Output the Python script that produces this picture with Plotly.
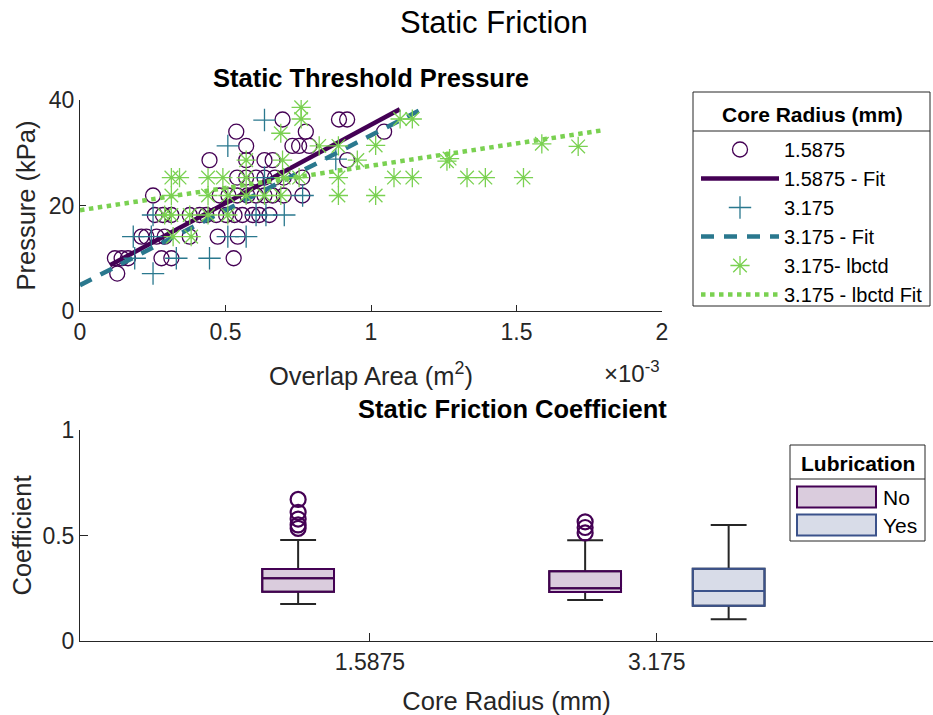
import plotly.graph_objects as go

# ---------------- data ----------------
# Overlap area in units of 1e-3 m^2, static threshold pressure in kPa
r15875_area = [0.128,
               0.120, 0.143, 0.165, 0.280, 0.314, 0.528,
               0.211, 0.228, 0.263, 0.291, 0.377, 0.473, 0.542,
               0.257, 0.285, 0.314, 0.377, 0.411, 0.434, 0.468, 0.502, 0.531, 0.558, 0.593, 0.616, 0.651,
               0.251, 0.480, 0.510, 0.540, 0.575, 0.605, 0.634, 0.662, 0.700, 0.764,
               0.540, 0.571, 0.605, 0.634, 0.670, 0.700, 0.764,
               0.445, 0.571, 0.634, 0.662, 0.918,
               0.571, 0.730, 0.753, 0.788,
               0.537, 0.776, 1.045,
               0.696, 0.890, 0.918]
r15875_press = [7.1,
                10.0, 10.0, 10.0, 10.0, 10.0, 10.0,
                14.1, 14.1, 14.1, 14.1, 14.1, 14.1, 14.1,
                18.2, 18.2, 18.2, 18.2, 18.2, 18.2, 18.2, 18.2, 18.2, 18.2, 18.2, 18.2, 18.2,
                21.9, 21.9, 21.9, 21.9, 21.9, 21.9, 21.9, 21.9, 21.9, 21.9,
                25.3, 25.3, 25.3, 25.3, 25.3, 25.3, 25.3,
                28.6, 28.6, 28.6, 28.6, 28.6,
                31.3, 31.3, 31.3, 31.3,
                34.0, 34.0, 34.0,
                36.3, 36.3, 36.3]

r3175_area = [0.251,
              0.188, 0.331, 0.445,
              0.183, 0.245, 0.508, 0.571,
              0.251, 0.605, 0.639, 0.702,
              0.765, 0.634, 0.879, 0.508, 0.634]
r3175_press = [7.1,
               10.0, 10.0, 10.0,
               14.1, 14.1, 14.1, 14.1,
               18.2, 18.2, 18.2, 18.2,
               21.9, 25.3, 28.8, 31.3, 36.2]

lbctd_area = [0.320, 0.382,
              0.291, 0.314, 0.377, 0.440, 0.508,
              0.314, 0.440, 0.508, 0.571, 0.634, 0.690, 0.888, 1.016,
              0.314, 0.342, 0.440, 0.491, 0.571, 0.700, 0.753, 0.888, 1.079, 1.142, 1.330, 1.393, 1.524,
              0.571, 0.696, 0.953, 1.261, 1.270,
              0.822, 0.888, 1.016, 1.587, 1.712,
              0.690, 0.760, 1.100, 1.142, 0.760]
lbctd_press = [14.1, 14.1,
               18.2, 18.2, 18.2, 18.2, 18.2,
               21.9, 21.9, 21.9, 21.9, 21.9, 21.9, 21.9, 21.9,
               25.3, 25.3, 25.3, 25.3, 25.3, 25.3, 25.3, 25.3, 25.3, 25.3, 25.3, 25.3, 25.3,
               28.6, 28.6, 28.6, 28.4, 28.9,
               31.3, 31.3, 31.4, 31.7, 31.2,
               33.7, 36.4, 36.4, 36.4, 38.6]

# linear fits: pressure = slope * area + intercept, drawn over [x_start, x_end]
fit_15875 = dict(slope=29.7, intercept=5.6, x_start=0.103, x_end=1.099)
fit_3175 = dict(slope=28.4, intercept=4.9, x_start=0.0, x_end=1.185)
fit_lbctd = dict(slope=8.44, intercept=19.1, x_start=0.0, x_end=1.80)

# static friction coefficient box statistics
radius_categories = ["1.5875", "3.175"]
lubrication_groups = ["No", "Yes"]
box_category = ["1.5875", "3.175", "3.175"]
box_group = ["No", "No", "Yes"]
box_lowerfence = [0.175, 0.194, 0.103]
box_q1 = [0.234, 0.232, 0.167]
box_median = [0.297, 0.250, 0.237]
box_q3 = [0.341, 0.330, 0.343]
box_upperfence = [0.479, 0.477, 0.550]
box_outliers = [[0.671, 0.610, 0.578, 0.550, 0.534],
                [0.565, 0.538, 0.512],
                []]

# ---------------- styling ----------------
W, H = 933, 715
PURPLE = "#440154"
TEAL = "#2a788e"
GREEN = "#7ad151"
BLUE = "#3b528b"
AX = "#262626"
FONT = "Liberation Sans, Arial, Helvetica, sans-serif"
TICK_SIZE = 23
LABEL_SIZE = 25.5
TITLE_SIZE = 25.5
LEGEND_SIZE = 20

group_color = {"No": PURPLE, "Yes": BLUE}
group_fill = {"No": "rgba(68,1,84,0.2)", "Yes": "rgba(59,82,139,0.2)"}
group_offset = {"No": -0.25, "Yes": 0.25}


def fx(px):
    return px / W


def fy(py):
    return 1 - py / H


def text(s, x, y, size, xanchor="center", color="black"):
    fig.add_annotation(text=s, x=fx(x), y=fy(y), xref="paper", yref="paper",
                       xanchor=xanchor, yanchor="middle", showarrow=False,
                       font=dict(family=FONT, size=size, color=color))


fig = go.Figure()

# ---------------- top: scatter + fits ----------------
def fit_line(f):
    xs = [f["x_start"], f["x_end"]]
    return xs, [f["slope"] * x + f["intercept"] for x in xs]


fig.add_trace(go.Scatter(
    x=r15875_area, y=r15875_press, mode="markers", name="1.5875",
    marker=dict(symbol="circle-open", size=15, color=PURPLE, line=dict(width=1.3, color=PURPLE)),
    xaxis="x", yaxis="y"))
xs, ys = fit_line(fit_15875)
fig.add_trace(go.Scatter(x=xs, y=ys, mode="lines", name="1.5875 - Fit",
                         line=dict(color=PURPLE, width=4.5), xaxis="x", yaxis="y"))
fig.add_trace(go.Scatter(
    x=r3175_area, y=r3175_press, mode="markers", name="3.175",
    marker=dict(symbol="cross-thin-open", size=16, color=TEAL, line=dict(width=1.3, color=TEAL)),
    xaxis="x", yaxis="y"))
xs, ys = fit_line(fit_3175)
fig.add_trace(go.Scatter(x=xs, y=ys, mode="lines", name="3.175 - Fit",
                         line=dict(color=TEAL, width=4.5, dash="13px,10px"), xaxis="x", yaxis="y"))
fig.add_trace(go.Scatter(
    x=lbctd_area, y=lbctd_press, mode="markers", name="3.175- lbctd",
    marker=dict(symbol="asterisk-open", size=16, color=GREEN, line=dict(width=1.3, color=GREEN)),
    xaxis="x", yaxis="y"))
xs, ys = fit_line(fit_lbctd)
fig.add_trace(go.Scatter(x=xs, y=ys, mode="lines", name="3.175 - lbctd Fit",
                         line=dict(color=GREEN, width=4.5, dash="dot"), xaxis="x", yaxis="y"))

# ---------------- bottom: box chart ----------------
for i in range(len(box_q1)):
    pos = radius_categories.index(box_category[i]) + 1 + group_offset[box_group[i]]
    g = box_group[i]
    # whiskers and caps in dark grey
    fig.add_trace(go.Box(
        x=[pos], q1=[box_q1[i]], median=[box_median[i]], q3=[box_q3[i]],
        lowerfence=[box_lowerfence[i]], upperfence=[box_upperfence[i]],
        width=0.25, whiskerwidth=0.5, boxpoints=False,
        line=dict(color=AX, width=2), fillcolor="rgba(0,0,0,0)",
        showlegend=False, hoverinfo="skip", xaxis="x2", yaxis="y2"))
    # box body and median in group colour
    fig.add_trace(go.Box(
        x=[pos], q1=[box_q1[i]], median=[box_median[i]], q3=[box_q3[i]],
        lowerfence=[box_q1[i]], upperfence=[box_q3[i]],
        width=0.25, whiskerwidth=0, boxpoints=False,
        line=dict(color=group_color[g], width=2), fillcolor=group_fill[g],
        showlegend=False, xaxis="x2", yaxis="y2"))
    if box_outliers[i]:
        fig.add_trace(go.Scatter(
            x=[pos] * len(box_outliers[i]), y=box_outliers[i], mode="markers",
            marker=dict(symbol="circle-open", size=15, color=group_color[g],
                        line=dict(width=2.2, color=group_color[g])),
            showlegend=False, xaxis="x2", yaxis="y2"))

axis_common = dict(showline=True, linecolor=AX, linewidth=1, ticks="inside", tickcolor=AX,
                   tickwidth=1, showgrid=False, zeroline=False, mirror=False,
                   tickfont=dict(family=FONT, size=TICK_SIZE, color=AX), automargin=False)

fig.update_layout(
    width=W, height=H, margin=dict(l=0, r=0, t=0, b=0),
    paper_bgcolor="white", plot_bgcolor="white",
    font=dict(family=FONT, color=AX),
    showlegend=True,
    xaxis=dict(domain=[fx(80), fx(662)], range=[0, 2], tickvals=[0, 0.5, 1, 1.5, 2],
               ticktext=["0", "0.5", "1", "1.5", "2"], ticklen=6, anchor="y",
               title=dict(text="Overlap Area (m<sup>2</sup>)", font=dict(size=LABEL_SIZE, color=AX), standoff=23),
               **axis_common),
    yaxis=dict(domain=[fy(311), fy(100)], range=[0, 40], tickvals=[0, 20, 40], ticklen=6, anchor="x",
               title=dict(text="Pressure (kPa)", font=dict(size=LABEL_SIZE, color=AX), standoff=5),
               **axis_common),
    xaxis2=dict(domain=[fx(80), 1.0], range=[-0.01, 2.962], tickvals=[1, 2],
                ticktext=radius_categories, ticklen=8, anchor="y2",
                title=dict(text="Core Radius (mm)", font=dict(size=LABEL_SIZE, color=AX), standoff=18),
                **axis_common),
    yaxis2=dict(domain=[fy(641), fy(430)], range=[0, 1], tickvals=[0, 0.5, 1],
                ticktext=["0", "0.5", "1"], ticklen=8, anchor="x2",
                title=dict(text="Coefficient", font=dict(size=LABEL_SIZE, color=AX), standoff=3),
                **axis_common),
    boxmode="overlay",
    legend=dict(x=fx(696), y=fy(130), xanchor="left", yanchor="top",
                bgcolor="rgba(0,0,0,0)", borderwidth=0, itemwidth=78,
                tracegroupgap=0, font=dict(family=FONT, size=LEGEND_SIZE, color="black")),
)

# titles
text("Static Friction", 494, 22, 31)
text("<b>Static Threshold Pressure</b>", 371, 78, TITLE_SIZE)
text("<b>Static Friction Coefficient</b>", 512, 409, TITLE_SIZE)
text("\u00d710<sup>-3</sup>", 602, 372, 24, xanchor="left", color=AX)

# legend frame and heading for the scatter panel
fig.add_shape(type="rect", xref="paper", yref="paper", x0=fx(693), x1=fx(930), y0=fy(306), y1=fy(92),
              line=dict(color=AX, width=1), fillcolor="rgba(0,0,0,0)")
fig.add_shape(type="line", xref="paper", yref="paper", x0=fx(693), x1=fx(930), y0=fy(131), y1=fy(131),
              line=dict(color=AX, width=1))
text("<b>Core Radius (mm)</b>", 812, 114, 21)

# lubrication key for the box chart
fig.add_shape(type="rect", xref="paper", yref="paper", x0=fx(790), x1=fx(925), y0=fy(541), y1=fy(445),
              line=dict(color=AX, width=1), fillcolor="white")
fig.add_shape(type="line", xref="paper", yref="paper", x0=fx(790), x1=fx(925), y0=fy(479), y1=fy(479),
              line=dict(color=AX, width=1))
text("<b>Lubrication</b>", 858, 463, 21)
for k, g in enumerate(lubrication_groups):
    yc = 497 + 28 * k
    fig.add_shape(type="rect", xref="paper", yref="paper", x0=fx(797), x1=fx(876),
                  y0=fy(yc + 10.5), y1=fy(yc - 10.5),
                  line=dict(color=group_color[g], width=2), fillcolor=group_fill[g])
    text(g, 881, yc, 21, xanchor="left")

fig.write_html("out.html")
